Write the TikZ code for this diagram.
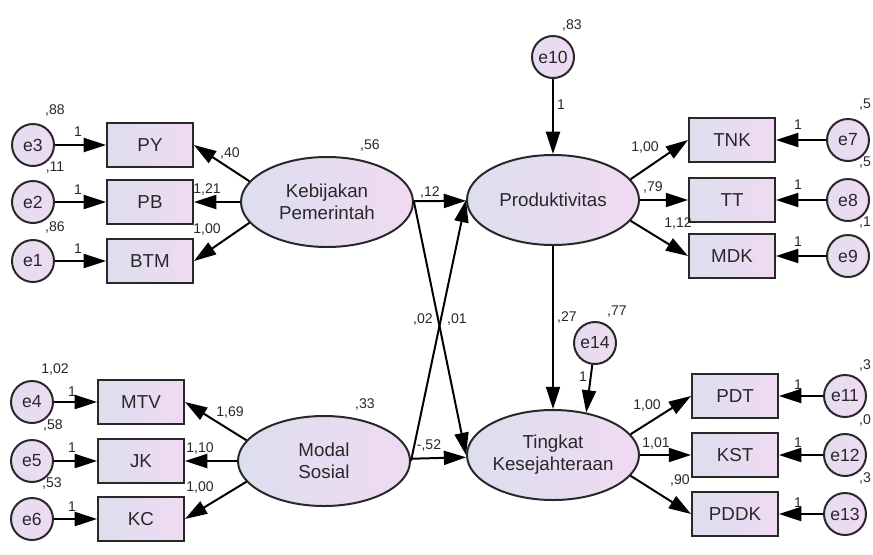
\documentclass[tikz,border=0pt]{standalone}
\usepackage{fontspec}
\setmainfont{Liberation Sans}
\usepackage{tikz}
\usetikzlibrary{arrows.meta,shapes}
\definecolor{leftc}{RGB}{220,222,238}
\definecolor{rightc}{RGB}{240,218,242}
\definecolor{ink}{RGB}{40,40,40}
\newcommand{\nodefont}{\fontsize{16}{19}\selectfont}
\newcommand{\errfont}{\fontsize{15}{17}\selectfont}
\newcommand{\labfont}{\fontsize{12}{13}\selectfont}
\tikzstyle{obs}=[draw=ink, rectangle, inner sep=0pt, minimum width=2.58cm, minimum height=1.32cm, left color=leftc, right color=rightc, text=ink, font=\nodefont]
\tikzstyle{lat}=[draw=ink, ellipse, inner sep=0pt, minimum width=5.16cm, minimum height=2.7cm, left color=leftc, right color=rightc, text=ink, font=\nodefont, align=center]
\tikzstyle{err}=[draw=ink, circle, inner sep=0pt, minimum size=1.26cm, left color=leftc!60!rightc, right color=rightc, text=ink, font=\errfont]
\tikzstyle{coef}=[inner sep=1pt, text=ink, font=\labfont]

\begin{document}
\begin{tikzpicture}[x=0.03cm,y=-0.03cm,>={Triangle[length=19pt,width=12pt]},line width=1.7pt]
    \useasboundingbox (0,0) rectangle (873,554);

    % Latent variables
    \draw (327,202) node[lat] (KP) {Kebijakan\\Pemerintah};
    \draw (324,461) node[lat] (MS) {Modal\\Sosial};
    \draw (553,200) node[lat] (PR) {Produktivitas};
    \draw (553,455) node[lat] (TK) {Tingkat\\Kesejahteraan};

    % Indicators
    \draw (150,145) node[obs] (PY) {PY};
    \draw (150,202) node[obs] (PB) {PB};
    \draw (150,261) node[obs] (BTM) {BTM};
    \draw (141,402) node[obs] (MTV) {MTV};
    \draw (141,461) node[obs] (JK) {JK};
    \draw (141,519) node[obs] (KC) {KC};
    \draw (732,140) node[obs] (TNK) {TNK};
    \draw (732,200) node[obs] (TT) {TT};
    \draw (732,256) node[obs] (MDK) {MDK};
    \draw (735,396) node[obs] (PDT) {PDT};
    \draw (735,455) node[obs] (KST) {KST};
    \draw (735,514) node[obs] (PDDK) {PDDK};

    % Errors
    \draw (33,145) node[err] (e3) {e3};
    \draw (33,202) node[err] (e2) {e2};
    \draw (33,261) node[err] (e1) {e1};
    \draw (32,402) node[err] (e4) {e4};
    \draw (32,461) node[err] (e5) {e5};
    \draw (32,519) node[err] (e6) {e6};
    \draw (848,140) node[err] (e7) {e7};
    \draw (848,200) node[err] (e8) {e8};
    \draw (848,256) node[err] (e9) {e9};
    \draw (845,396) node[err] (e11) {e11};
    \draw (845,455) node[err] (e12) {e12};
    \draw (845,514) node[err] (e13) {e13};
    \draw (553,57) node[err] (e10) {e10};
    \draw (595,343) node[err] (e14) {e14};

    % Paths
    \draw[->] (e3) -- (PY);
    \draw[->] (e2) -- (PB);
    \draw[->] (e1) -- (BTM);
    \draw[->] (e4) -- (MTV);
    \draw[->] (e5) -- (JK);
    \draw[->] (e6) -- (KC);
    \draw[->] (e7) -- (TNK);
    \draw[->] (e8) -- (TT);
    \draw[->] (e9) -- (MDK);
    \draw[->] (e11) -- (PDT);
    \draw[->] (e12) -- (KST);
    \draw[->] (e13) -- (PDDK);
    \draw[->] (KP.165) -- (PY.east);
    \draw[->] (KP) -- (PB);
    \draw[->] (KP.195) -- (BTM.east);
    \draw[->] (MS.165) -- (MTV.east);
    \draw[->] (MS) -- (JK);
    \draw[->] (MS.195) -- (KC.east);
    \draw[->] (PR.15) -- (TNK.west);
    \draw[->] (PR) -- (TT);
    \draw[->] (PR.-15) -- (MDK.west);
    \draw[->] (TK.15) -- (PDT.west);
    \draw[->] (TK) -- (KST);
    \draw[->] (TK.-15) -- (PDDK.west);
    \draw[->] (KP) -- (PR);
    \draw[->] (KP.east) -- (TK.west);
    \draw[->] (MS.east) -- (PR.west);
    \draw[->] (MS) -- (TK);
    \draw[->] (PR) -- (TK);
    \draw[->] (e10) -- (PR);
    \draw[->] (e14) -- (TK.52);

    % Variances
    \draw (55,110) node[coef] (v3) {,88};
    \draw (55,168) node[coef] (v2) {,11};
    \draw (55,227) node[coef] (v1) {,86};
    \draw (55,369) node[coef] (v4) {1,02};
    \draw (53,425) node[coef] (v5) {,58};
    \draw (52,483) node[coef] (v6) {,53};
    \draw (370,145) node[coef] (vKP) {,56};
    \draw (365,404) node[coef] (vMS) {,33};
    \draw (572,25) node[coef] (v10) {,83};
    \draw (617,312) node[coef] (v14) {,77};
    \draw (873,105) node[coef,anchor=east] (v7) {,5};
    \draw (873,163) node[coef,anchor=east] (v8) {,5};
    \draw (873,223) node[coef,anchor=east] (v9) {,1};
    \draw (873,365) node[coef,anchor=east] (v11) {,3};
    \draw (873,420) node[coef,anchor=east] (v12) {,0};
    \draw (873,478) node[coef,anchor=east] (v13) {,3};

    % Fixed weights
    \draw (78,132) node[coef] (w3) {1};
    \draw (78,190) node[coef] (w2) {1};
    \draw (78,249) node[coef] (w1) {1};
    \draw (72,392) node[coef] (w4) {1};
    \draw (72,448) node[coef] (w5) {1};
    \draw (72,507) node[coef] (w6) {1};
    \draw (798,125) node[coef] (w7) {1};
    \draw (798,185) node[coef] (w8) {1};
    \draw (798,242) node[coef] (w9) {1};
    \draw (798,385) node[coef] (w11) {1};
    \draw (798,443) node[coef] (w12) {1};
    \draw (798,503) node[coef] (w13) {1};
    \draw (561,105) node[coef] (w10) {1};
    \draw (583,377) node[coef] (w14) {1};

    % Estimates
    \draw (230,153) node[coef] (cPY) {,40};
    \draw (207,189) node[coef] (cPB) {1,21};
    \draw (207,229) node[coef] (cBTM) {1,00};
    \draw (230,412) node[coef] (cMTV) {1,69};
    \draw (200,448) node[coef] (cJK) {1,10};
    \draw (200,487) node[coef] (cKC) {1,00};
    \draw (645,147) node[coef] (cTNK) {1,00};
    \draw (653,187) node[coef] (cTT) {,79};
    \draw (678,223) node[coef] (cMDK) {1,12};
    \draw (647,405) node[coef] (cPDT) {1,00};
    \draw (656,443) node[coef] (cKST) {1,01};
    \draw (680,480) node[coef] (cPDDK) {,90};
    \draw (430,192) node[coef] (cKPPR) {,12};
    \draw (423,319) node[coef] (cMSPR) {,02};
    \draw (457,319) node[coef] (cKPTK) {,01};
    \draw (429,445) node[coef] (cMSTK) {-,52};
    \draw (567,317) node[coef] (cPRTK) {,27};

\end{tikzpicture}
\end{document}
